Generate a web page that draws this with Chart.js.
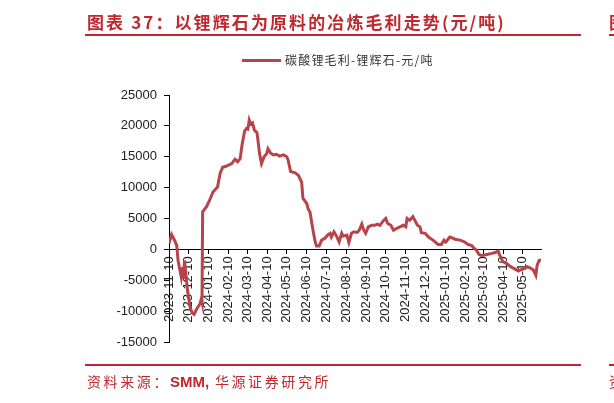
<!DOCTYPE html>
<html>
<head>
<meta charset="utf-8">
<script src="https://cdn.jsdelivr.net/npm/chart.js@4.4.1/dist/chart.umd.min.js"></script>
<style>
    html, body { margin: 0; padding: 0; width: 614px; height: 403px; overflow: hidden; background: #fff; }
    .abs { position: absolute; white-space: nowrap; }
    #title { left: 87px; top: 9px; font: bold 17px "Noto Sans CJK SC", sans-serif; color: #C0282F; letter-spacing: 2.1px; }
    #source { left: 87px; top: 371px; font: 14px "Noto Sans CJK SC", sans-serif; color: #C0282F; letter-spacing: 2.6px; }
    .rule { position: absolute; height: 2px; background: #C0272D; }
    #legendBar { left: 242px; top: 59px; width: 39px; height: 3px; background: #B8434A; }
    #legendText { left: 285px; top: 51px; font: 12px "Noto Sans CJK SC", sans-serif; color: #333; letter-spacing: 1.2px; }
    #chartBox { position: absolute; left: 0; top: 0; width: 614px; height: 403px; }
</style>
</head>
<body>
<div id="chartBox"><canvas id="marginChart"></canvas></div>
<div id="title" class="abs">图表 37：以锂辉石为原料的冶炼毛利走势(元/吨)</div>
<div class="rule" style="left:85px;top:34px;width:496px;"></div>
<div class="abs" style="left:609px;top:9px;font:bold 17px 'Noto Sans CJK SC';color:#C0282F;">图</div>
<div class="rule" style="left:609px;top:34px;width:10px;"></div>
<div id="legendBar" class="abs"></div>
<div id="legendText" class="abs">碳酸锂毛利-锂辉石-元/吨</div>
<div class="rule" style="left:85px;top:364px;width:496px;"></div>
<div class="rule" style="left:609px;top:364px;width:10px;"></div>
<div id="source" class="abs">资料来源：<b style="font-family:'Liberation Sans Narrow','Liberation Sans',sans-serif;font-size:15px;letter-spacing:0">SMM,</b> 华源证券研究所</div>
<div class="abs" style="left:609px;top:371px;font:14px 'Noto Sans CJK SC';color:#C0282F;">资</div>

<script>
// Lithium carbonate margin (spodumene route), yuan/ton
const dates = [
    '2023-11-10', '2023-11-14', '2023-11-18', '2023-11-22', '2023-11-24', '2023-11-29',
    '2023-12-01', '2023-12-02', '2023-12-04', '2023-12-06', '2023-12-09', '2023-12-13',
    '2023-12-16', '2023-12-19', '2023-12-22', '2023-12-25', '2023-12-28', '2023-12-30',
    '2023-12-31', '2024-01-01', '2024-01-07', '2024-01-12', '2024-01-17', '2024-01-24',
    '2024-01-28', '2024-02-01', '2024-02-07', '2024-02-15', '2024-02-20', '2024-02-24',
    '2024-02-28', '2024-03-02', '2024-03-06', '2024-03-09', '2024-03-11', '2024-03-13',
    '2024-03-15', '2024-03-18', '2024-03-21', '2024-03-25', '2024-03-29', '2024-04-01',
    '2024-04-05', '2024-04-09', '2024-04-11', '2024-04-15', '2024-04-19', '2024-04-24',
    '2024-04-29', '2024-05-05', '2024-05-10', '2024-05-12', '2024-05-16', '2024-05-23',
    '2024-05-28', '2024-06-02', '2024-06-04', '2024-06-10', '2024-06-12', '2024-06-15',
    '2024-06-17', '2024-06-20', '2024-06-23', '2024-06-25', '2024-06-29', '2024-07-03',
    '2024-07-08', '2024-07-12', '2024-07-16', '2024-07-18', '2024-07-22', '2024-07-26',
    '2024-07-30', '2024-08-03', '2024-08-05', '2024-08-11', '2024-08-14', '2024-08-18',
    '2024-08-22', '2024-08-27', '2024-08-30', '2024-09-03', '2024-09-06', '2024-09-09',
    '2024-09-13', '2024-09-18', '2024-09-23', '2024-09-27', '2024-10-01', '2024-10-06',
    '2024-10-10', '2024-10-13', '2024-10-18', '2024-10-22', '2024-10-27', '2024-11-01',
    '2024-11-06', '2024-11-10', '2024-11-12', '2024-11-16', '2024-11-21', '2024-11-24',
    '2024-11-28', '2024-12-02', '2024-12-04', '2024-12-10', '2024-12-15', '2024-12-22',
    '2024-12-30', '2025-01-04', '2025-01-08', '2025-01-11', '2025-01-17', '2025-01-20',
    '2025-01-25', '2025-02-02', '2025-02-09', '2025-02-14', '2025-02-20', '2025-02-23',
    '2025-02-27', '2025-03-03', '2025-03-07', '2025-03-12', '2025-03-17', '2025-03-23',
    '2025-03-28', '2025-04-02', '2025-04-04', '2025-04-09', '2025-04-15', '2025-04-21',
    '2025-04-28', '2025-05-03', '2025-05-07', '2025-05-10', '2025-05-16', '2025-05-21',
    '2025-05-26', '2025-05-30', '2025-06-01', '2025-06-04', '2025-06-07'
];

const margins = [
    1000, 2400, 1600, 600, -1800, -4500,
    -2900, -4800, -1800, -4000, -7000, -9500,
    -10300, -10500, -9800, -9300, -8800, -8000,
    -8500, 6100, 6900, 8000, 9300, 10100,
    12300, 13300, 13500, 13900, 14600, 14200,
    14700, 17000, 19200, 19600, 19500, 20900,
    20300, 20500, 19300, 18900, 15500, 13900,
    15000, 15500, 16300, 15600, 15300, 15400,
    15100, 15300, 15000, 14500, 12600, 12400,
    12000, 10900, 8300, 7400, 6600, 6000,
    4700, 2850, 1200, 530, 530, 1500,
    1800, 2300, 2600, 2000, 2850, 2150,
    1200, 2600, 2150, 2300, 1100, 2600,
    2850, 2750, 3100, 4100, 3100, 2600,
    3650, 3900, 3900, 4100, 3900, 4600,
    5000, 4200, 3900, 3100, 3400, 3650,
    3900, 3650, 5000, 4700, 5300, 4700,
    3900, 3650, 2700, 2600, 2000, 1500,
    800, 800, 1500, 1200, 2000, 1900,
    1650, 1500, 1200, 800, 600, 250,
    -100, -800, -1000, -900, -800, -650,
    -500, -300, -900, -2000, -2300, -2800,
    -3200, -3500, -3300, -3200, -2800, -3000,
    -3300, -4200, -2600, -1800, -1700
];

const tickLabels = [
    '2023-11-10', '2023-12-10', '2024-01-10', '2024-02-10', '2024-03-10', '2024-04-10',
    '2024-05-10', '2024-06-10', '2024-07-10', '2024-08-10', '2024-09-10', '2024-10-10',
    '2024-11-10', '2024-12-10', '2025-01-10', '2025-02-10', '2025-03-10', '2025-04-10',
    '2025-05-10'
];

const lastDate = '2025-06-07';

// days since the first date, used as the x value
function dayOf(str) {
    const p = str.split('-').map(Number);
    const base = tickLabels[0].split('-').map(Number);
    return Math.round((Date.UTC(p[0], p[1] - 1, p[2]) - Date.UTC(base[0], base[1] - 1, base[2])) / 86400000);
}

const tickDays = tickLabels.map(dayOf);

document.addEventListener('DOMContentLoaded', function() {
    const ctx = document.getElementById('marginChart').getContext('2d');
    const axisFont = { family: "'Liberation Sans', Arial, sans-serif", size: 13 };

    new Chart(ctx, {
        type: 'line',
        data: {
            datasets: [{
                label: '碳酸锂毛利-锂辉石-元/吨',
                data: dates.map((d, i) => ({ x: dayOf(d), y: margins[i] })),
                borderColor: '#B8434A',
                backgroundColor: '#B8434A',
                borderWidth: 3,
                pointRadius: 0,
                tension: 0
            }]
        },
        options: {
            responsive: true,
            maintainAspectRatio: false,
            animation: false,
            layout: {
                padding: { left: 109, right: 73, top: 95, bottom: 61 }
            },
            plugins: {
                legend: { display: false },
                tooltip: { enabled: false }
            },
            scales: {
                x: {
                    type: 'linear',
                    position: { y: 0 },
                    min: 0,
                    max: dayOf(lastDate),
                    afterFit: function(scale) { scale.height = 0; },
                    afterBuildTicks: function(scale) {
                        scale.ticks = tickDays.map(v => ({ value: v }));
                    },
                    grid: {
                        drawOnChartArea: false,
                        tickLength: 4,
                        color: '#000'
                    },
                    border: { color: '#000', width: 1 },
                    ticks: {
                        autoSkip: false,
                        minRotation: 90,
                        maxRotation: 90,
                        padding: 3,
                        color: '#222',
                        font: axisFont,
                        callback: function(value) {
                            const i = tickDays.indexOf(value);
                            return i >= 0 ? tickLabels[i] : '';
                        }
                    }
                },
                y: {
                    min: -15000,
                    max: 25000,
                    afterFit: function(scale) { scale.width = 60; },
                    grid: {
                        drawOnChartArea: false,
                        tickLength: 5,
                        color: '#000'
                    },
                    border: { color: '#000', width: 1 },
                    ticks: {
                        stepSize: 5000,
                        padding: 7,
                        color: '#222',
                        font: axisFont,
                        callback: function(value) { return String(value); }
                    }
                }
            }
        }
    });
});
</script>
</body>
</html>
